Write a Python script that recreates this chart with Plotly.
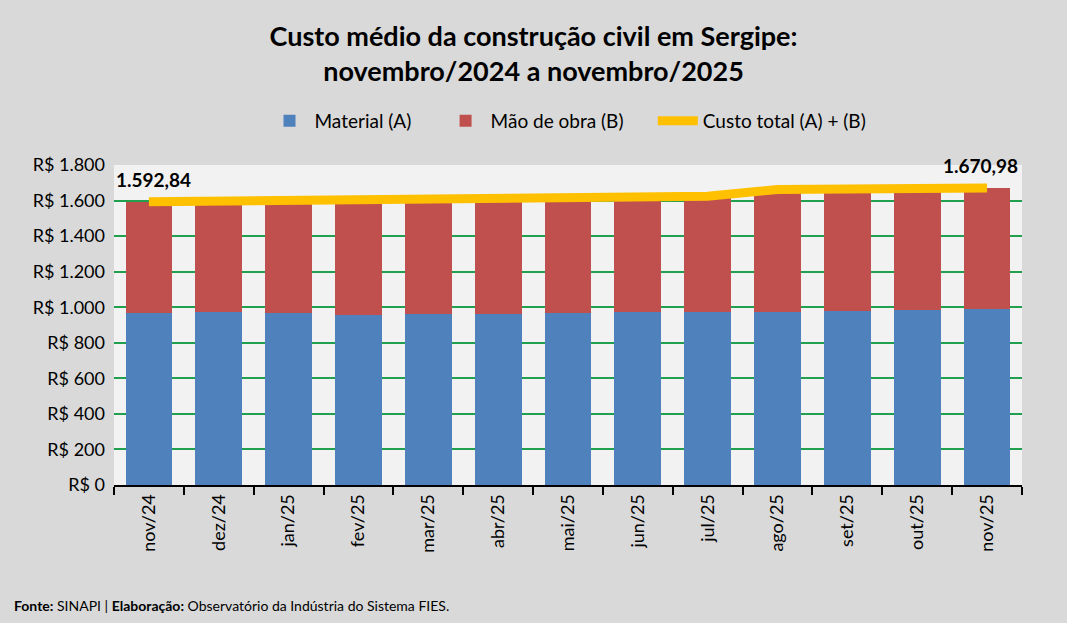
import plotly.graph_objects as go

# dados do gráfico (R$/m²)
meses = ['nov/24', 'dez/24', 'jan/25', 'fev/25', 'mar/25', 'abr/25', 'mai/25',
         'jun/25', 'jul/25', 'ago/25', 'set/25', 'out/25', 'nov/25']
material = [966, 971, 966, 955, 961, 961, 966, 972, 972, 972, 978, 986, 992]
mao_obra = [626.84, 627, 639, 652, 649, 651, 650, 648, 652, 690, 686, 681, 678.98]
custo_total = [round(a + b, 2) for a, b in zip(material, mao_obra)]

FONT = 'Lato'
PAD = '\u00a0' * 5  # espaço extra entre itens da legenda


def fmt_br(v):
    s = '{:,.2f}'.format(v)
    return s.replace(',', 'X').replace('.', ',').replace('X', '.')


fig = go.Figure()
fig.add_trace(go.Bar(x=meses, y=material, name='Material (A)' + PAD,
                     marker=dict(color='#4f81bd', line=dict(width=0))))
fig.add_trace(go.Bar(x=meses, y=mao_obra, name='Mão de obra (B)' + PAD,
                     marker=dict(color='#c0504d', line=dict(width=0))))
fig.add_trace(go.Scatter(x=meses, y=custo_total, name='Custo total (A) + (B)',
                         mode='lines', line=dict(color='#ffc000', width=9)))

# rótulos no primeiro e no último ponto
fig.add_annotation(x=meses[0], y=custo_total[0], text='<b>' + fmt_br(custo_total[0]) + '</b>',
                   showarrow=False, yshift=22, xshift=5,
                   font=dict(family=FONT, size=19, color='#000000'))
fig.add_annotation(x=meses[-1], y=custo_total[-1], text='<b>' + fmt_br(custo_total[-1]) + '</b>',
                   showarrow=False, yshift=22, xshift=-7,
                   font=dict(family=FONT, size=19, color='#000000'))

fig.add_annotation(xref='paper', yref='paper', x=-0.1123, y=-0.375, xanchor='left', yanchor='middle',
                   showarrow=False,
                   text='<b>Fonte:</b> SINAPI | <b>Elaboração:</b> Observatório da Indústria do Sistema FIES.',
                   font=dict(family=FONT, size=14, color='#000000'))

fig.update_layout(
    width=1067, height=623,
    barmode='stack', bargap=0.33,
    separators=',.',
    paper_bgcolor='#d9d9d9', plot_bgcolor='#f2f2f2',
    margin=dict(l=114, r=45, t=165, b=138),
    title=dict(text='<b>Custo médio da construção civil em Sergipe:<br>novembro/2024 a novembro/2025</b>',
               x=0.5, xanchor='center', y=0.9265, yanchor='middle',
               font=dict(family=FONT, size=27, color='#000000')),
    legend=dict(orientation='h', x=0.5, xanchor='center', y=1.1375, yanchor='middle',
                font=dict(family=FONT, size=19, color='#000000'),
                bgcolor='rgba(0,0,0,0)', traceorder='normal', itemwidth=40),
    font=dict(family=FONT, color='#000000'),
    showlegend=True,
)
fig.update_xaxes(type='category', tickangle=-90, ticks='outside', tickson='boundaries',
                 ticklen=8, tickwidth=2, tickcolor='#000000',
                 showline=True, linecolor='#000000', linewidth=2,
                 tickfont=dict(family=FONT, size=18, color='#000000'), showgrid=False)
fig.update_yaxes(range=[0, 1800], dtick=200, tickprefix='R$ ', tickformat=',d',
                 showgrid=True, gridcolor='#21a04f', gridwidth=2,
                 zeroline=False, showline=False,
                 tickfont=dict(family=FONT, size=18, color='#000000'), ticks='', ticklabelstandoff=8)

fig.write_html('out.html', config={'displayModeBar': False},
               post_script="document.body.style.margin='0';")
